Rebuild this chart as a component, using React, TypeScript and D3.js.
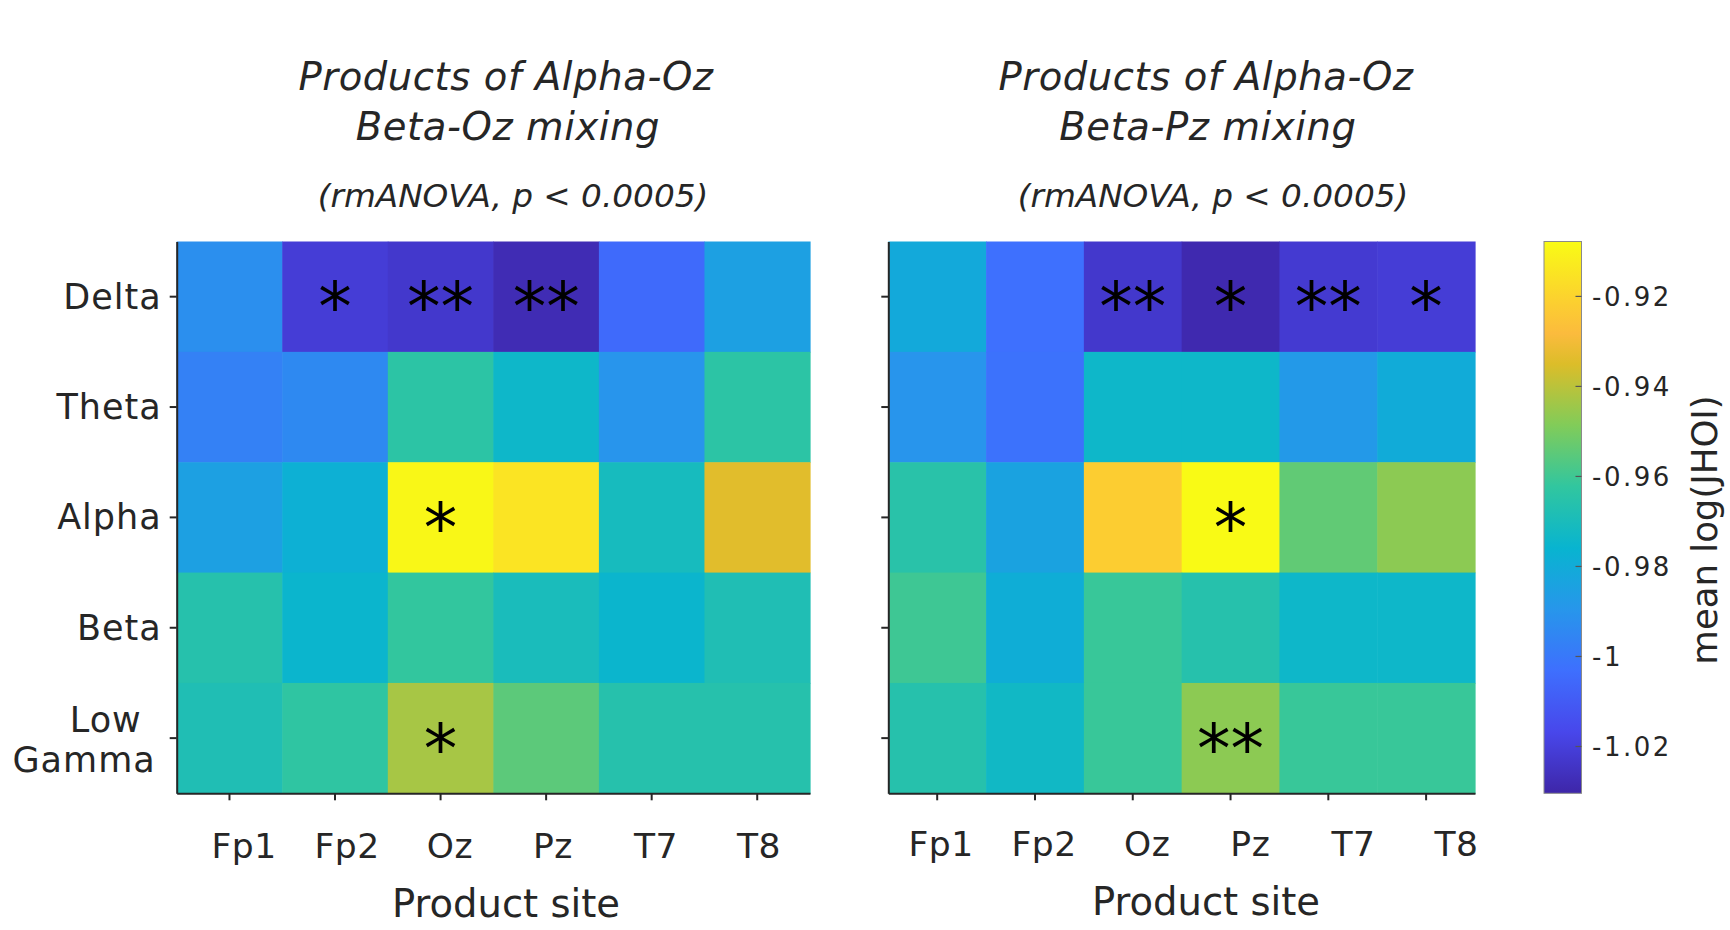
import { useRef, useEffect } from "react";
import { select, scaleBand, scaleLinear, scalePoint, axisLeft, axisBottom } from "d3";

const bands = ["Delta", "Theta", "Alpha", "Beta", "Low Gamma"];
const sites = ["Fp1", "Fp2", "Oz", "Pz", "T7", "T8"];

// mean log(JHOI), Alpha-Oz x Beta-Oz
const ozOzValues = [
  [-0.992, -1.021, -1.023, -1.028, -1.005, -0.985],
  [-0.997, -0.994, -0.964, -0.974, -0.99, -0.964],
  [-0.985, -0.978, -0.909, -0.915, -0.971, -0.934],
  [-0.966, -0.975, -0.962, -0.97, -0.975, -0.968],
  [-0.968, -0.963, -0.943, -0.955, -0.966, -0.966],
];
const ozOzStars = [
  ["", "*", "**", "**", "", ""],
  ["", "", "", "", "", ""],
  ["", "", "*", "", "", ""],
  ["", "", "", "", "", ""],
  ["", "", "*", "", "", ""],
];

// mean log(JHOI), Alpha-Oz x Beta-Pz
const ozPzValues = [
  [-0.981, -1.003, -1.023, -1.029, -1.022, -1.021],
  [-0.99, -1.002, -0.974, -0.974, -0.988, -0.98],
  [-0.965, -0.984, -0.922, -0.908, -0.954, -0.947],
  [-0.96, -0.979, -0.961, -0.966, -0.974, -0.974],
  [-0.966, -0.973, -0.961, -0.947, -0.961, -0.961],
];
const ozPzStars = [
  ["", "", "**", "*", "**", "*"],
  ["", "", "", "", "", ""],
  ["", "", "", "*", "", ""],
  ["", "", "", "", "", ""],
  ["", "", "", "**", "", ""],
];

const colorTicks = [-0.92, -0.94, -0.96, -0.98, -1, -1.02];
const colorDomain = [-1.0304, -0.9078];

// parula
const parulaT = [0, 0.111, 0.222, 0.333, 0.444, 0.556, 0.667, 0.778, 0.833, 0.889, 1];
const parulaC = ["#3e26a8", "#4847eb", "#3e6ffe", "#2796eb", "#08b4d0", "#31c69f", "#81cc59", "#dcbd29", "#fbbb3d", "#fccf30", "#f9fb15"];

const FONT = "DejaVu Sans";
const INK = "#262626";
const TOP = 241.5;
const BOTTOM = 793.3;

const color = scaleLinear<string>()
  .domain(parulaT.map((t) => colorDomain[0] + t * (colorDomain[1] - colorDomain[0])))
  .range(parulaC)
  .clamp(true);

function drawPanel(svg: any, o: any) {
  const x = scaleBand().domain(sites).range([o.left, o.right]);
  const y = scaleBand().domain(bands).range([TOP, BOTTOM]);
  const lx = scalePoint().domain(sites).range(o.labelRange);
  const g = svg.append("g");

  const cells = bands.flatMap((b, r) =>
    sites.map((s, c) => ({ b, s, v: o.values[r][c], star: o.stars[r][c] }))
  );

  g.selectAll("rect.cell")
    .data(cells)
    .join("rect")
    .attr("class", "cell")
    .attr("x", (d: any) => x(d.s))
    .attr("y", (d: any) => y(d.b))
    .attr("width", x.bandwidth() + 0.6)
    .attr("height", y.bandwidth() + 0.6)
    .attr("fill", (d: any) => color(d.v));

  g.selectAll("text.star")
    .data(cells.filter((d) => d.star))
    .join("text")
    .attr("class", "star")
    .attr("x", (d: any) => x(d.s)! + x.bandwidth() / 2)
    .attr("y", (d: any) => y(d.b)! + y.bandwidth() / 2)
    .attr("dy", "0.5em")
    .attr("text-anchor", "middle")
    .attr("font-family", FONT)
    .attr("font-size", 67)
    .attr("fill", "#000")
    .text((d: any) => d.star);

  //axes
  const yAxis: any = axisLeft(y).tickSize(7).tickSizeOuter(0).tickFormat(() => "");
  const xAxis: any = axisBottom(x).tickSize(7).tickSizeOuter(0).tickFormat(() => "");
  const ya = g.append("g").attr("transform", `translate(${o.left},0)`).call(yAxis);
  const xa = g.append("g").attr("transform", `translate(0,${BOTTOM})`).call(xAxis);
  [ya, xa].forEach((a) => {
    a.selectAll("path, line").attr("stroke", INK).attr("stroke-width", 2);
  });

  if (o.showY) {
    const yl = g.selectAll("text.ylab")
      .data(bands)
      .join("text")
      .attr("class", "ylab")
      .attr("font-family", FONT)
      .attr("font-size", 35)
      .attr("letter-spacing", 1)
      .attr("fill", INK)
      .attr("text-anchor", "end");
    yl.each(function (this: any, d: string) {
      const t = select(this);
      const cy = y(d)! + y.bandwidth() / 2;
      if (d === "Low Gamma") {
        t.append("tspan").attr("x", o.left - 35).attr("y", cy - 6).text("Low");
        t.append("tspan").attr("x", o.left - 21).attr("y", cy + 34).text("Gamma");
      } else {
        t.attr("x", o.left - 15).attr("y", cy + 12).text(d);
      }
    });
  }

  g.selectAll("text.xlab")
    .data(sites)
    .join("text")
    .attr("class", "xlab")
    .attr("x", (d: string) => lx(d))
    .attr("y", o.labelY)
    .attr("text-anchor", "middle")
    .attr("font-family", FONT)
    .attr("font-size", 34.5)
    .attr("letter-spacing", 0.5)
    .attr("fill", INK)
    .text((d: string) => d);

  g.append("text")
    .attr("x", o.titleX)
    .attr("y", o.labelY + 59)
    .attr("text-anchor", "middle")
    .attr("font-family", FONT)
    .attr("font-size", 38.5)
    .attr("fill", INK)
    .text("Product site");

  const titles = [
    { text: "Products of Alpha-Oz", y: 90, size: 38.5, ls: 0.6, dx: 0 },
    { text: o.title2, y: 140, size: 38.5, ls: 0.6, dx: 2 },
    { text: "(rmANOVA, p < 0.0005)", y: 206.7, size: 32.7, ls: 0, dx: 7 },
  ];
  g.selectAll("text.title")
    .data(titles)
    .join("text")
    .attr("class", "title")
    .attr("x", (d: any) => o.titleX + d.dx)
    .attr("y", (d: any) => d.y)
    .attr("text-anchor", "middle")
    .attr("font-family", FONT)
    .attr("font-style", "italic")
    .attr("font-size", (d: any) => d.size)
    .attr("letter-spacing", (d: any) => d.ls)
    .attr("fill", INK)
    .text((d: any) => d.text);
}

export default function App() {
  const ref = useRef<SVGSVGElement | null>(null);

  useEffect(() => {
    const svg = select(ref.current!);
    svg.selectAll("*").remove();

    drawPanel(svg, {
      values: ozOzValues,
      stars: ozOzStars,
      left: 176.7,
      right: 810,
      labelRange: [244, 759],
      labelY: 858,
      titleX: 506,
      title2: "Beta-Oz mixing",
      showY: true,
    });
    drawPanel(svg, {
      values: ozPzValues,
      stars: ozPzStars,
      left: 888.3,
      right: 1475,
      labelRange: [941, 1456.5],
      labelY: 855.5,
      titleX: 1206,
      title2: "Beta-Pz mixing",
      showY: false,
    });

    //colorbar
    const cb = svg.append("g");
    const grad = svg.append("defs").append("linearGradient")
      .attr("id", "parula")
      .attr("x1", 0).attr("y1", 1).attr("x2", 0).attr("y2", 0);
    grad.selectAll("stop")
      .data(parulaT)
      .join("stop")
      .attr("offset", (d) => d)
      .attr("stop-color", (d, i) => parulaC[i]);

    const cy = scaleLinear().domain(colorDomain).range([BOTTOM, TOP]);
    const cbLeft = 1544;
    const cbRight = 1581.5;
    cb.append("rect")
      .attr("x", cbLeft)
      .attr("y", TOP)
      .attr("width", cbRight - cbLeft)
      .attr("height", BOTTOM - TOP)
      .attr("fill", "url(#parula)")
      .attr("stroke", "#8a8a8a")
      .attr("stroke-width", 1);

    cb.selectAll("line.ctick")
      .data(colorTicks)
      .join("line")
      .attr("class", "ctick")
      .attr("x1", cbRight - 6)
      .attr("x2", cbRight)
      .attr("y1", (d) => cy(d))
      .attr("y2", (d) => cy(d))
      .attr("stroke", "#555")
      .attr("stroke-width", 1.2);

    cb.selectAll("text.clab")
      .data(colorTicks)
      .join("text")
      .attr("class", "clab")
      .attr("x", 1592)
      .attr("y", (d) => cy(d) + 9.5)
      .attr("font-family", FONT)
      .attr("font-size", 26)
      .attr("letter-spacing", 2.5)
      .attr("fill", INK)
      .text((d) => String(d));

    cb.append("text")
      .attr("transform", "translate(1717,530) rotate(-90)")
      .attr("text-anchor", "middle")
      .attr("font-family", FONT)
      .attr("font-size", 35.5)
      .attr("fill", INK)
      .text("mean log(JHOI)");
  }, []);

  return (
    <svg
      ref={ref}
      width={1730}
      height={930}
      style={{ position: "absolute", left: 0, top: 0, background: "#fff" }}
    ></svg>
  );
}
